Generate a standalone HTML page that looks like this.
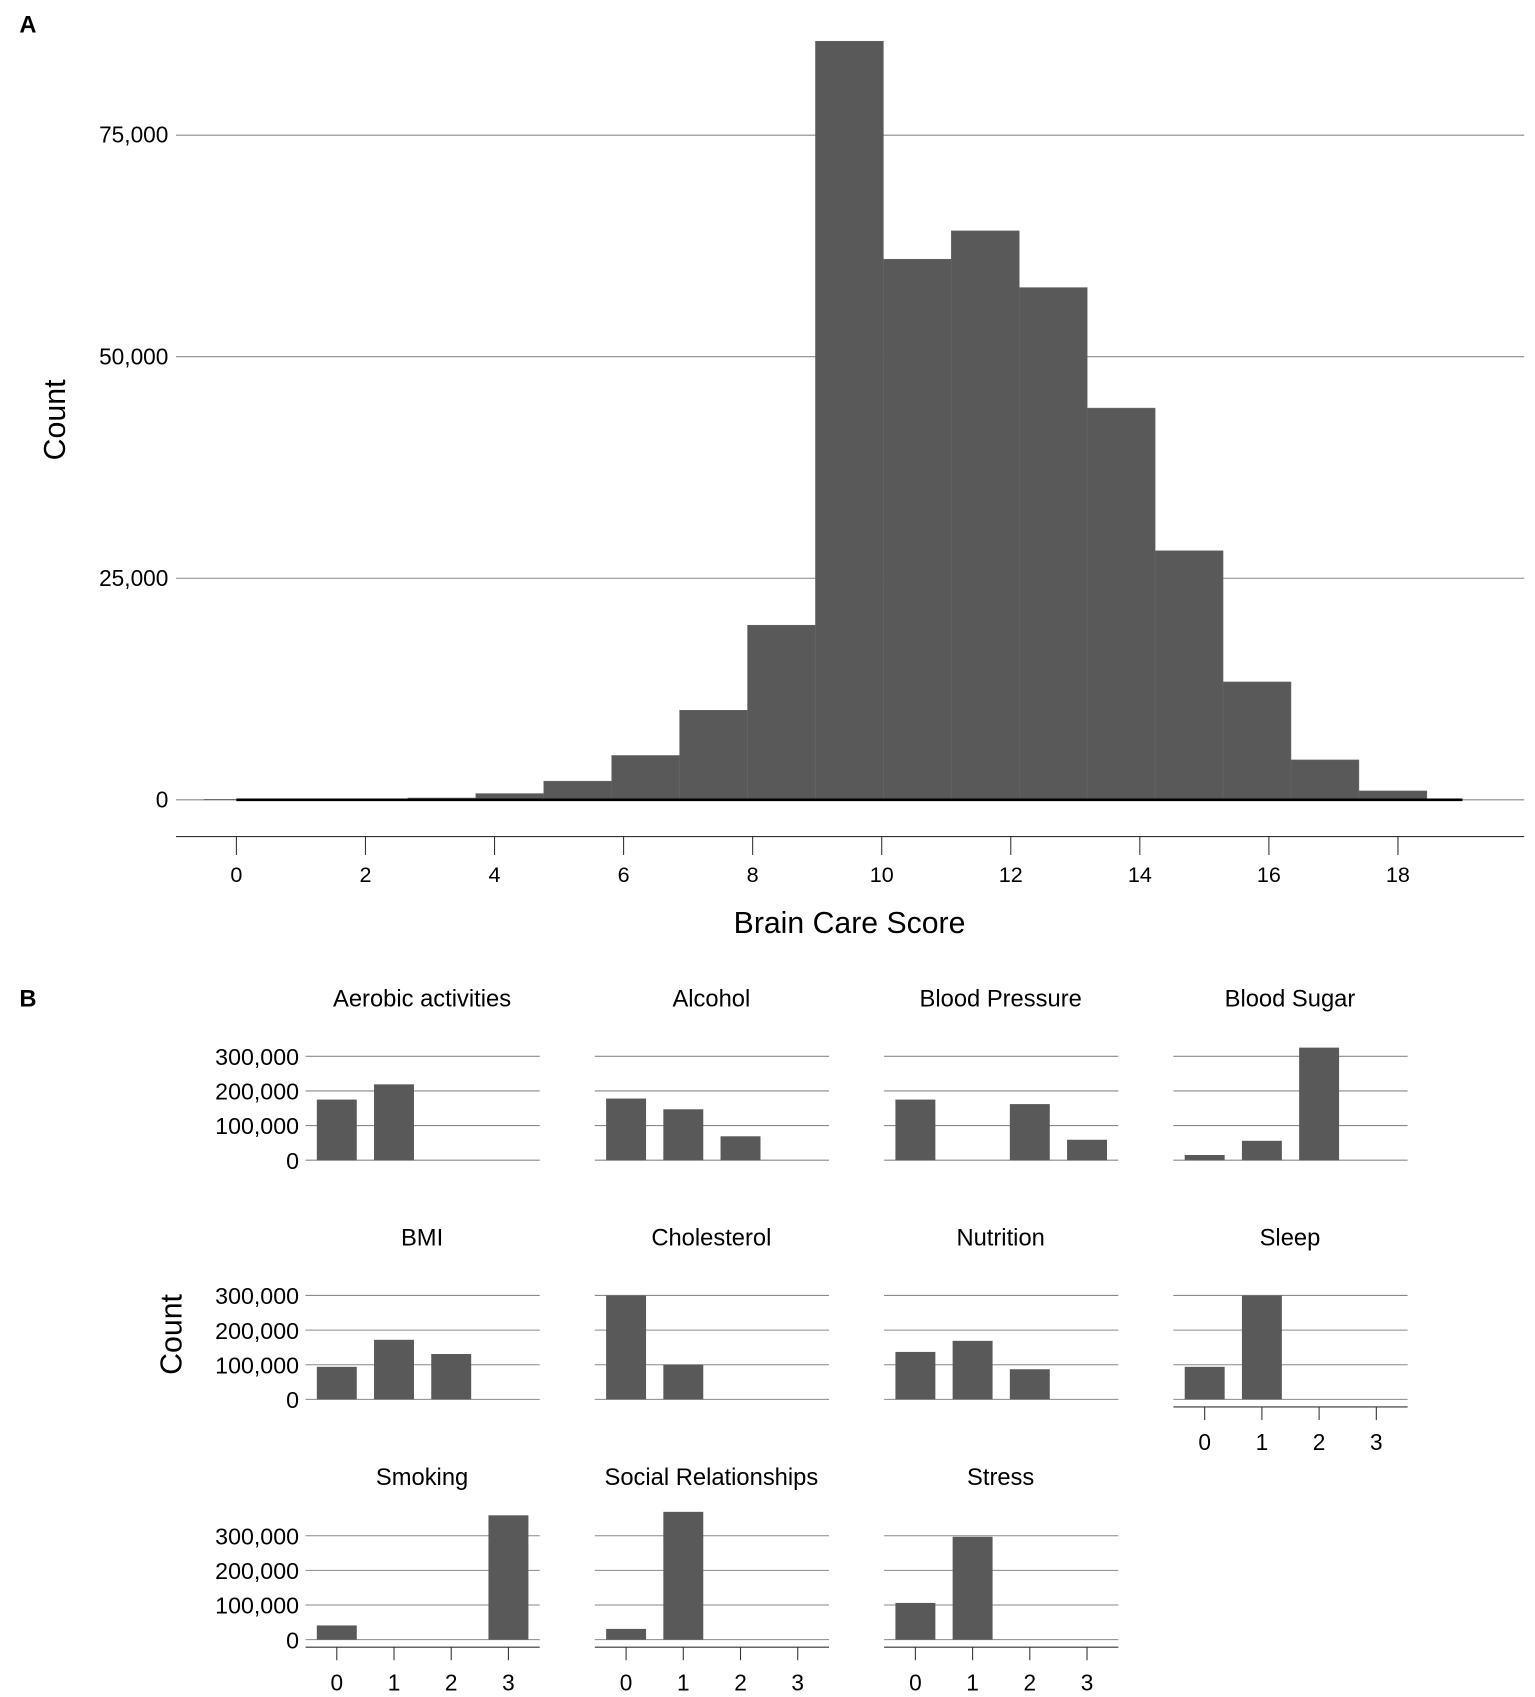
<!DOCTYPE html>
<html><head><meta charset="utf-8"><style>
html,body{margin:0;padding:0;background:#fff;}
svg{display:block;font-family:"Liberation Sans",Arial,sans-serif;}
</style></head><body>
<svg id="fig" width="1535" height="1697" viewBox="0 0 1422 1568" preserveAspectRatio="none" xmlns="http://www.w3.org/2000/svg"></svg>
<script>
// Panel A data
const bcsCounts = [50, 50, 60, 200, 700, 2100, 5000, 10100, 19700, 85600, 61000, 64200, 57800, 44200, 28100, 13300, 4500, 1000, 0];
const bcsYTicks = [0, 25000, 50000, 75000];
const bcsXTicks = [0, 2, 4, 6, 8, 10, 12, 14, 16, 18];
// Panel B data
const componentNames = ["Aerobic activities","Alcohol","Blood Pressure","Blood Sugar","BMI","Cholesterol","Nutrition","Sleep","Smoking","Social Relationships","Stress"];
const componentValues = [
 [175000, 219000, 0, 0],
 [178000, 147000, 69000, 0],
 [175000, 0, 162000, 59000],
 [15000, 56000, 325000, 0],
 [94000, 172000, 131000, 0],
 [300000, 100000, 0, 0],
 [137000, 169000, 87000, 0],
 [94000, 300000, 0, 0],
 [41000, 0, 0, 359000],
 [31000, 369000, 0, 0],
 [106000, 297000, 0, 0]
];
const compYTicks = [0, 100000, 200000, 300000];
const compCats = [0, 1, 2, 3];
const compWithXAxis = ["Sleep","Smoking","Social Relationships","Stress"];

const svg = document.getElementById('fig');
const NS = 'http://www.w3.org/2000/svg';
function mk(tag, attrs, text){const e=document.createElementNS(NS,tag);for(const k in attrs)e.setAttribute(k,attrs[k]);if(text!==undefined)e.textContent=text;svg.appendChild(e);return e;}
const fmt = v => v.toLocaleString('en-US');

// ---------- Panel A ----------
let t = mk('text',{x:18,y:30,'font-size':22,'font-weight':'bold'},'A');


const ax = v => 219 + v*59.78;
const ay = v => 739 - v*204.7/25000;
bcsYTicks.forEach(v=>{
  let g = mk('line',{x1:163,x2:1412,y1:ay(v),y2:ay(v),stroke:'#8a8a8a','stroke-width':1});
  
  
  let l = mk('text',{x:156,y:ay(v)+7,'font-size':21,'text-anchor':'end'},fmt(v));
  
  
});
const binW = 20/19;
bcsCounts.forEach((c,i)=>{
  const x0 = -0.5 + i*binW, x1 = x0 + binW;
  if(c<=0) return;
  let r = mk('rect',{x:ax(x0),y:ay(c),width:ax(x1)-ax(x0),height:ay(0)-ay(c),fill:'#595959',stroke:'#666','stroke-width':0.5});
  
  
});
let zl = mk('line',{x1:ax(0),x2:ax(19),y1:ay(0),y2:ay(0),stroke:'#000','stroke-width':2.5});


let xa = mk('line',{x1:163,x2:1412,y1:773,y2:773,stroke:'#333','stroke-width':1});


bcsXTicks.forEach(v=>{
  let tk = mk('line',{x1:ax(v),x2:ax(v),y1:773,y2:790,stroke:'#333','stroke-width':1});
  
  
  let l = mk('text',{x:ax(v),y:815,'font-size':20,'text-anchor':'middle'},String(v));
  
  
});
t = mk('text',{x:787,y:862,'font-size':28,'text-anchor':'middle'},'Brain Care Score');


t = mk('text',{x:0,y:0,'font-size':28,'text-anchor':'middle',transform:'translate(60,388) rotate(-90)'},'Count');



// ---------- Panel B ----------
t = mk('text',{x:18,y:930,'font-size':22,'font-weight':'bold'},'B');


t = mk('text',{x:0,y:0,'font-size':28,'text-anchor':'middle',transform:'translate(168,1233) rotate(-90)'},'Count');


const colX = [283, 551, 819, 1087];
const rowZero = [1072, 1293, 1515];
const rowTitle = [922, 1143, 1364];
componentNames.forEach((name,i)=>{
  const col = i%4, row = Math.floor(i/4);
  const x0 = colX[col], y0 = rowZero[row];
  const bx = c => x0 + 29 + c*53;
  const by = v => y0 - v*32/100000;
  let tt = mk('text',{x:x0+108,y:rowTitle[row]+8,'font-size':22,'text-anchor':'middle'},name);
  
  
  compYTicks.forEach(v=>{
    let g = mk('line',{x1:x0,x2:x0+217,y1:by(v),y2:by(v),stroke:'#8a8a8a','stroke-width':1});
    
    
    if(col===0){
      let l = mk('text',{x:277,y:by(v)+8,'font-size':21.5,'text-anchor':'end'},fmt(v));
      
      
    }
  });
  componentValues[i].forEach((v,c)=>{
    if(v<=0) return;
    let r = mk('rect',{x:bx(c)-18.5,y:by(v),width:37,height:by(0)-by(v),fill:'#595959'});
    
    
  });
  if(compWithXAxis.includes(name)){
    const ya = y0+7;
    let a = mk('line',{x1:x0,x2:x0+217,y1:ya,y2:ya,stroke:'#333','stroke-width':1});
    
    
    compCats.forEach(c=>{
      let tk = mk('line',{x1:bx(c),x2:bx(c),y1:ya,y2:ya+12,stroke:'#333','stroke-width':1});
      
      
      let l = mk('text',{x:bx(c),y:ya+40,'font-size':21,'text-anchor':'middle'},String(c));
      
      
    });
  }
});
</script>
</body></html>
